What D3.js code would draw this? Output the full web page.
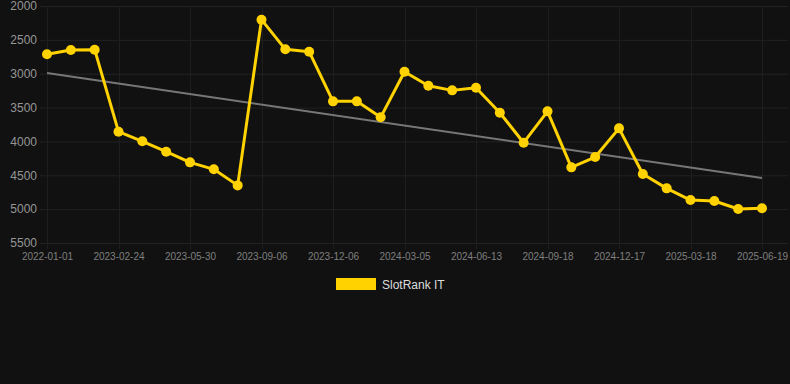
<!DOCTYPE html>
<html>
<head>
<meta charset="utf-8">
<script src="https://cdn.jsdelivr.net/npm/d3@7"></script>
<style>
  html, body { margin: 0; padding: 0; background: #111111; }
  svg { display: block; font-family: Arial, "Liberation Sans", sans-serif; }
</style>
</head>
<body>
<svg id="chart" width="790" height="384"></svg>
<script>
// dates of each snapshot (only every third one is labelled on the axis)
var dates = ["2022-01-01","2022-12-20","2023-01-22","2023-02-24","2023-03-27","2023-04-28",
             "2023-05-30","2023-07-01","2023-08-03","2023-09-06","2023-10-06","2023-11-05",
             "2023-12-06","2024-01-05","2024-02-04","2024-03-05","2024-04-05","2024-05-09",
             "2024-06-13","2024-07-16","2024-08-17","2024-09-18","2024-10-18","2024-11-17",
             "2024-12-17","2025-01-16","2025-02-15","2025-03-18","2025-04-18","2025-05-19",
             "2025-06-19"];
var rankIT = [2713,2650,2645,3856,3998,4152,4309,4412,4649,2202,
              2640,2675,3408,3408,3644,2970,3177,3246,3207,3576,4019,
              3556,4383,4230,3807,4481,4693,4866,4880,4998,4988];
var trendValues = [2990, 4540];   // first and last value of the grey trend line
var yTicks = [2000,2500,3000,3500,4000,4500,5000,5500];
var seriesName = "SlotRank IT";

var svg = d3.select("#chart");
var margin = {left:47, right:28, top:6, bottom:141};
var width = 790 - margin.left - margin.right;
var height = 384 - margin.top - margin.bottom;

var x = d3.scalePoint().domain(dates).range([margin.left, margin.left + width]);
var y = d3.scaleLinear().domain([2000, 5500]).range([margin.top, margin.top + height]);

// grid
var grid = svg.append("g");
grid.selectAll("line.h").data(yTicks).enter().append("line")
    .attr("x1", 40).attr("x2", 788)
    .attr("y1", function(d){ return y(d) + 0.5; })
    .attr("y2", function(d){ return y(d) + 0.5; })
    .attr("stroke", "#222222").attr("stroke-width", 1);
grid.selectAll("line.v").data(dates.filter(function(d,i){ return i % 3 === 0; })).enter().append("line")
    .attr("x1", function(d){ return Math.round(x(d)) + 0.5; })
    .attr("x2", function(d){ return Math.round(x(d)) + 0.5; })
    .attr("y1", margin.top).attr("y2", margin.top + height + 6)
    .attr("stroke", "#1e1e1e").attr("stroke-width", 1);

// y axis labels
var yAxis = d3.axisLeft(y).tickValues(yTicks).tickFormat(d3.format("d")).tickSize(0).tickPadding(0);
var ya = svg.append("g").attr("transform", "translate(37,0)").call(yAxis);
ya.select(".domain").remove();
ya.selectAll("text").attr("fill", "#969696").style("font-size", "12px");

// x axis labels
var xAxis = d3.axisBottom(x)
    .tickValues(dates.filter(function(d,i){ return i % 3 === 0; }))
    .tickSize(0).tickPadding(0);
var xa = svg.append("g").attr("transform", "translate(0," + (margin.top + height + 10) + ")").call(xAxis);
xa.select(".domain").remove();
xa.selectAll("text").attr("fill", "#7f7f7f").style("font-size", "10px");

// trend line
svg.append("line")
    .attr("x1", x(dates[0])).attr("y1", y(trendValues[0]))
    .attr("x2", x(dates[dates.length-1])).attr("y2", y(trendValues[1]))
    .attr("stroke", "#777777").attr("stroke-width", 2);

// series
var line = d3.line()
    .x(function(d,i){ return x(dates[i]); })
    .y(function(d){ return y(d); });
svg.append("path").datum(rankIT)
    .attr("d", line)
    .attr("fill", "none")
    .attr("stroke", "#ffd200")
    .attr("stroke-width", 3)
    .attr("stroke-linejoin", "round");
svg.selectAll("circle").data(rankIT).enter().append("circle")
    .attr("cx", function(d,i){ return x(dates[i]); })
    .attr("cy", function(d){ return y(d); })
    .attr("r", 5)
    .attr("fill", "#ffd200");

// legend
var lg = svg.append("g").attr("transform", "translate(336,278)");
lg.append("rect").attr("width", 40).attr("height", 12).attr("fill", "#ffd200");
lg.append("text").attr("x", 46).attr("y", 11)
    .attr("fill", "#dddddd").style("font-size", "12px").text(seriesName);
</script>
</body>
</html>
